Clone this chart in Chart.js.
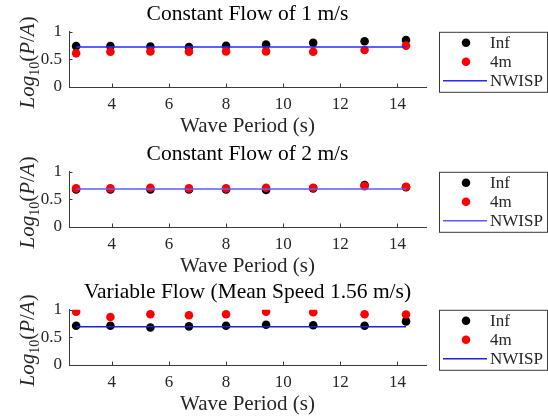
<!DOCTYPE html>
<html>
<head>
<meta charset="utf-8">
<script src="https://cdn.jsdelivr.net/npm/chart.js@4/dist/chart.umd.min.js"></script>
<style>
    body { margin: 0; background: #ffffff; }
    .panel { position: absolute; left: 0; width: 548px; height: 140px; }
    #p1 { top: 0; }
    #p2 { top: 140px; }
    #p3 { top: 278px; }
</style>
</head>
<body>
<div class="panel" id="p1"><canvas id="c1"></canvas></div>
<div class="panel" id="p2"><canvas id="c2"></canvas></div>
<div class="panel" id="p3"><canvas id="c3"></canvas></div>
<script>
const periods = [2.75, 3.95, 5.35, 6.7, 8.0, 9.4, 11.05, 12.85, 14.3];

const inf1   = [0.74, 0.74, 0.735, 0.725, 0.745, 0.77, 0.80, 0.83, 0.85];
const m4_1   = [0.61, 0.64, 0.645, 0.64, 0.645, 0.645, 0.64, 0.67, 0.75];
const nwisp1 = [0.725, 0.725, 0.725, 0.725, 0.725, 0.725, 0.725, 0.725, 0.725];

const inf2   = [0.68, 0.68, 0.68, 0.68, 0.68, 0.67, 0.70, 0.76, 0.72];
const m4_2   = [0.70, 0.70, 0.71, 0.70, 0.70, 0.71, 0.71, 0.74, 0.73];
const nwisp2 = [0.69, 0.69, 0.69, 0.69, 0.69, 0.69, 0.69, 0.69, 0.69];

const inf3   = [0.71, 0.71, 0.68, 0.70, 0.71, 0.73, 0.72, 0.71, 0.79];
const m4_3   = [0.965, 0.87, 0.92, 0.90, 0.92, 0.965, 0.955, 0.92, 0.915];
const nwisp3 = [0.695, 0.695, 0.695, 0.695, 0.695, 0.695, 0.695, 0.695, 0.695];

const xTicks = [4, 6, 8, 10, 12, 14];
const yTicks = [0, 0.5, 1];
const seriesNames = ["Inf", "4m", "NWISP"];

const SERIF = "'Liberation Serif', 'Times New Roman', serif";
const AXIS = "#3a3a3a";
const TEXT = "#262626";

function toPoints (xs, ys) {
    return xs.map((x, i) => ({ x: x, y: ys[i] }));
}

// inward tick marks, the rotated y label with a subscript, and a boxed legend
const matlabAxes = {
    id: "matlabAxes",
    afterDraw (chart) {
        const { ctx, chartArea: area, scales: { x, y } } = chart;
        ctx.save();
        ctx.strokeStyle = AXIS;
        ctx.lineWidth = 1;
        ctx.beginPath();
        xTicks.forEach(v => {
            const px = Math.round(x.getPixelForValue(v)) + 0.5;
            ctx.moveTo(px, area.bottom);
            ctx.lineTo(px, area.bottom - 3.5);
        });
        yTicks.forEach(v => {
            const py = Math.round(y.getPixelForValue(v)) + 0.5;
            ctx.moveTo(area.left, py);
            ctx.lineTo(area.left + 3.5, py);
        });
        ctx.stroke();

        // Log_10(P/A)
        const parts = [
            { t: "Log", f: "italic 21px " + SERIF, dy: 0 },
            { t: "10", f: "14px " + SERIF, dy: 5 },
            { t: "(", f: "21px " + SERIF, dy: 0 },
            { t: "P", f: "italic 21px " + SERIF, dy: 0 },
            { t: "/", f: "21px " + SERIF, dy: 0 },
            { t: "A", f: "italic 21px " + SERIF, dy: 0 },
            { t: ")", f: "21px " + SERIF, dy: 0 }
        ];
        let total = 0;
        parts.forEach(p => { ctx.font = p.f; p.w = ctx.measureText(p.t).width; total += p.w; });
        ctx.translate(34, (area.top + area.bottom) / 2 + 3);
        ctx.rotate(-Math.PI / 2);
        ctx.fillStyle = TEXT;
        ctx.textBaseline = "alphabetic";
        let cx = -total / 2;
        parts.forEach(p => {
            ctx.font = p.f;
            ctx.fillText(p.t, cx, p.dy);
            cx += p.w;
        });
        ctx.restore();

        // legend
        const lx = 439.5, ly = area.top + 0.5, lw = 108, lh = 60;
        ctx.save();
        ctx.fillStyle = "#ffffff";
        ctx.fillRect(lx, ly, lw, lh);
        ctx.strokeStyle = AXIS;
        ctx.lineWidth = 1;
        ctx.strokeRect(lx, ly, lw, lh);
        ctx.font = "17px " + SERIF;
        ctx.textBaseline = "middle";
        ctx.textAlign = "left";
        const rows = [ly + 10.5, ly + 29.5, ly + 48.5];
        chart.data.datasets.forEach((ds, i) => {
            const ry = rows[i];
            if (ds.showLine) {
                ctx.strokeStyle = ds.borderColor;
                ctx.lineWidth = ds.borderWidth;
                ctx.beginPath();
                ctx.moveTo(443, ry);
                ctx.lineTo(487, ry);
                ctx.stroke();
            } else {
                ctx.fillStyle = ds.backgroundColor;
                ctx.beginPath();
                ctx.arc(466, ry, ds.pointRadius, 0, Math.PI * 2);
                ctx.fill();
            }
            ctx.fillStyle = TEXT;
            ctx.fillText(ds.label, 490, ry + 1);
        });
        ctx.restore();
    }
};

function createSubplot (canvas, { titleText, inf, m4, nwisp, lineColor }) {
    return new Chart(canvas, {
        type: "scatter",
        data: {
            datasets: [
                {
                    label: seriesNames[0],
                    data: toPoints(periods, inf),
                    backgroundColor: "#000000",
                    borderWidth: 0,
                    pointRadius: 4.3,
                    order: 3
                },
                {
                    label: seriesNames[1],
                    data: toPoints(periods, m4),
                    backgroundColor: "#ff0000",
                    borderWidth: 0,
                    pointRadius: 4.3,
                    order: 2
                },
                {
                    label: seriesNames[2],
                    data: toPoints(periods, nwisp),
                    showLine: true,
                    borderColor: lineColor,
                    borderWidth: 1.5,
                    pointRadius: 0,
                    order: 1
                }
            ]
        },
        options: {
            responsive: true,
            maintainAspectRatio: false,
            animation: false,
            events: [],
            layout: {
                padding: { left: 0, right: 122, top: 0, bottom: 0 }
            },
            scales: {
                x: {
                    type: "linear",
                    min: 2.5,
                    max: 15,
                    afterFit: scale => { scale.height = 53; },
                    afterBuildTicks: scale => { scale.ticks = xTicks.map(v => ({ value: v })); },
                    grid: { display: false, drawTicks: false },
                    border: { display: true, color: AXIS, width: 1 },
                    ticks: {
                        padding: 7,
                        color: TEXT,
                        maxRotation: 0,
                        font: { family: SERIF, size: 17 }
                    },
                    title: {
                        display: true,
                        text: "Wave Period (s)",
                        color: TEXT,
                        padding: { top: 0, bottom: 1 },
                        font: { family: SERIF, size: 21 }
                    }
                },
                y: {
                    type: "linear",
                    min: 0,
                    max: 1,
                    afterFit: scale => { scale.width = 69; },
                    afterBuildTicks: scale => { scale.ticks = yTicks.map(v => ({ value: v })); },
                    grid: { display: false, drawTicks: false },
                    border: { display: true, color: AXIS, width: 1 },
                    ticks: {
                        padding: 7,
                        color: TEXT,
                        font: { family: SERIF, size: 17 },
                        callback: value => String(value)
                    }
                }
            },
            plugins: {
                title: {
                    display: true,
                    fullSize: false,
                    text: titleText,
                    color: "#000000",
                    padding: { top: 1, bottom: 5 },
                    font: { family: SERIF, size: 21.5, weight: "normal" }
                },
                legend: { display: false },
                tooltip: { enabled: false }
            }
        },
        plugins: [matlabAxes]
    });
}

createSubplot(document.getElementById("c1"), {
    titleText: "Constant Flow of 1 m/s", inf: inf1, m4: m4_1, nwisp: nwisp1, lineColor: "#2a2aff"
});
createSubplot(document.getElementById("c2"), {
    titleText: "Constant Flow of 2 m/s", inf: inf2, m4: m4_2, nwisp: nwisp2, lineColor: "#5c5cff"
});
createSubplot(document.getElementById("c3"), {
    titleText: "Variable Flow (Mean Speed 1.56 m/s)", inf: inf3, m4: m4_3, nwisp: nwisp3, lineColor: "#1a22d6"
});
</script>
</body>
</html>
